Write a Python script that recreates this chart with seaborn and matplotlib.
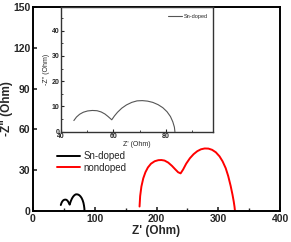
import pandas as pd
import seaborn as sns
import matplotlib.pyplot as plt
from matplotlib.ticker import MultipleLocator

# Nyquist data (Z' , -Z'')
sn_z_re = [45.0, 46.0, 47.2, 48.6, 50.2, 52.0, 53.8, 55.4, 56.8, 58.0, 59.4,
           60.4, 61.6, 63.2, 65.0, 67.0, 69.0, 71.0, 73.0, 75.0, 77.0, 78.8,
           80.4, 81.7, 82.6, 83.2, 83.4]
sn_z_im = [4.4, 5.8, 6.9, 7.7, 8.2, 8.4, 8.3, 7.8, 7.0, 6.0, 4.7,
           6.2, 7.7, 9.3, 10.6, 11.6, 12.2, 12.3, 12.1, 11.6, 10.7, 9.5,
           7.9, 6.0, 3.9, 1.8, 0.0]

nd_z_re = [172.5, 173.5, 175.5, 178.5, 182, 186, 191, 197, 203, 208, 213, 219,
           225, 230, 235, 239, 243, 248, 254, 260, 266, 272, 278, 284, 290,
           296, 302, 307, 312, 316, 320, 323, 325, 326.3, 327]
nd_z_im = [3.3, 11, 18, 24, 28.5, 32, 34.8, 36.6, 37.4, 37.5, 37.1, 35.6,
           33.2, 30.8, 28.5, 27.7, 30.5, 34.8, 38.8, 41.8, 44, 45.4, 46, 45.9, 45,
           43.2, 40.2, 36.5, 31.5, 25.8, 18.5, 12, 7, 3, 0]

sn = pd.DataFrame({"Zre": sn_z_re, "Zim": sn_z_im})
nd = pd.DataFrame({"Zre": nd_z_re, "Zim": nd_z_im})

sns.set_style("ticks")
plt.rcParams['font.family'] = ['Liberation Sans', 'DejaVu Sans']
plt.rcParams['xtick.direction'] = 'in'
plt.rcParams['ytick.direction'] = 'in'

fig = plt.figure(figsize=(2.91, 2.42), dpi=100)

# main axes
ax = fig.add_axes([0.1134, 0.128, 0.849, 0.843])
sns.lineplot(data=sn, x="Zre", y="Zim", sort=False, estimator=None,
             color="black", lw=1.4, label="Sn-doped", ax=ax)
sns.lineplot(data=nd, x="Zre", y="Zim", sort=False, estimator=None,
             color="#ff0000", lw=1.4, label="nondoped", ax=ax)
ax.set_xlim(0, 400)
ax.set_ylim(0, 150)
ax.xaxis.set_major_locator(MultipleLocator(100))
ax.xaxis.set_minor_locator(MultipleLocator(50))
ax.yaxis.set_major_locator(MultipleLocator(30))
ax.tick_params(labelsize=7.5, width=1.2, length=3, pad=2)
ax.tick_params(which='minor', width=1.0, length=2)
for t in ax.get_xticklabels() + ax.get_yticklabels():
    t.set_fontweight('bold')
for s in ax.spines.values():
    s.set_linewidth(1.4)
    s.set_color('black')
ax.set_xlabel("Z' (Ohm)", fontsize=8.5, fontweight='bold', labelpad=1)
ax.set_ylabel('-Z" (Ohm)', fontsize=8.5, fontweight='bold')
ax.yaxis.set_label_coords(-0.08, 0.5)
ax.legend(loc='center left', bbox_to_anchor=(0.166, 0.331),
          bbox_transform=fig.transFigure, frameon=False, fontsize=7,
          handlelength=2.4, handletextpad=0.3, labelspacing=0.15)

# inset
ins = fig.add_axes([0.2086, 0.456, 0.5245, 0.516])
sns.lineplot(data=sn, x="Zre", y="Zim", sort=False, estimator=None,
             color="#555555", lw=0.8, label="Sn-doped", ax=ins)
ins.set_xlim(40, 98)
ins.set_ylim(0, 49.5)
ins.xaxis.set_major_locator(MultipleLocator(20))
ins.xaxis.set_minor_locator(MultipleLocator(10))
ins.yaxis.set_major_locator(MultipleLocator(10))
ins.yaxis.set_minor_locator(MultipleLocator(5))
ins.tick_params(labelsize=5, width=0.8, length=2, pad=1)
ins.tick_params(which='minor', width=0.6, length=1.2)
for t in ins.get_xticklabels() + ins.get_yticklabels():
    t.set_fontweight('bold')
for s in ins.spines.values():
    s.set_linewidth(1.0)
    s.set_color('#333333')
ins.set_xlabel("Z' (Ohm)", fontsize=5, labelpad=1)
ins.set_ylabel('-Z" (Ohm)', fontsize=5, labelpad=1)
ins.legend(loc='upper right', bbox_to_anchor=(1.0, 0.985), frameon=False,
           fontsize=4, handlelength=2.5, handletextpad=0.4)

fig.savefig("out.png", dpi=100)
